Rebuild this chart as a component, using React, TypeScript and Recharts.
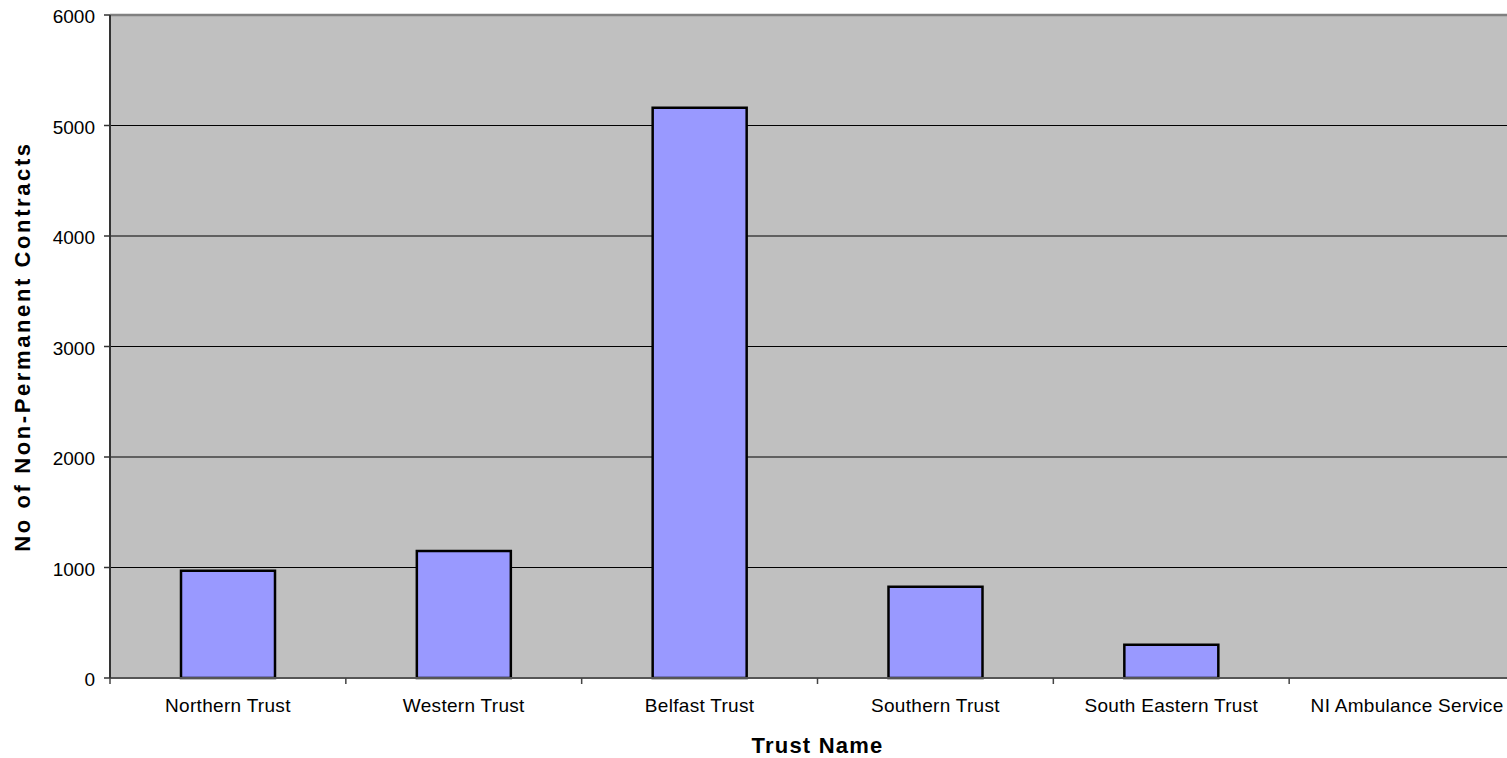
import React from 'react';
import {
  BarChart,
  Bar,
  XAxis,
  YAxis,
  CartesianGrid,
  ReferenceLine
} from 'recharts';

// trusts and their non-permanent contract counts
const trusts = [
  'Northern Trust',
  'Western Trust',
  'Belfast Trust',
  'Southern Trust',
  'South Eastern Trust',
  'NI Ambulance Service'
];
const contracts = [970, 1150, 5160, 825, 300, 0];
const yTicks = [0, 1000, 2000, 3000, 4000, 5000, 6000];

const chartData = trusts.map((name, i) => ({ name, contracts: contracts[i] }));

const TICK_SIZE = 6;
const X_TICK_MARGIN = 15;

// Excel style: tick marks sit on the category boundaries, text in the middle
function TrustTick(props: any) {
  const { x, y, payload } = props;
  const half = payload && typeof payload.offset === 'number' ? payload.offset : 0;
  const axisY = y - TICK_SIZE - X_TICK_MARGIN;
  return (
    <g>
      <line
        x1={x - half}
        x2={x - half}
        y1={axisY}
        y2={axisY + TICK_SIZE}
        stroke="#444"
        strokeWidth={1.5}
      />
      <text
        x={x}
        y={y}
        dy="0.71em"
        textAnchor="middle"
        fontSize={19}
        fill="#000"
        style={{ letterSpacing: 0.3 }}
      >
        {payload.value}
      </text>
    </g>
  );
}

export default function App() {
  return (
    <div
      style={{
        position: 'absolute',
        left: 0,
        top: 0,
        width: 1507,
        height: 758,
        overflow: 'hidden',
        background: '#fff',
        fontFamily: "'Liberation Sans', Arial, sans-serif"
      }}
    >
      <BarChart
        width={1530}
        height={758}
        data={chartData}
        margin={{ top: 15, right: 5, bottom: 0, left: 0 }}
      >
        <CartesianGrid
          vertical={false}
          stroke="#000"
          strokeWidth={1}
          fill="#C0C0C0"
          fillOpacity={1}
        />
        <XAxis
          dataKey="name"
          height={80}
          tickSize={TICK_SIZE}
          tickMargin={X_TICK_MARGIN}
          tickLine={{ stroke: 'none' }}
          axisLine={{ stroke: '#555', strokeWidth: 2 }}
          tick={<TrustTick />}
          interval={0}
          label={{
            value: 'Trust Name',
            position: 'insideBottom',
            offset: 5,
            fontSize: 22,
            fontWeight: 'bold',
            fill: '#000',
            style: { letterSpacing: 1.2 }
          }}
        />
        <YAxis
          width={110}
          domain={[0, 6000]}
          ticks={yTicks}
          interval={0}
          tickSize={TICK_SIZE}
          tickMargin={9}
          tickLine={{ stroke: '#333', strokeWidth: 1.5 }}
          axisLine={{ stroke: '#333', strokeWidth: 2 }}
          tick={{ fill: '#000', fontSize: 19, dy: 1.5 }}
          label={{
            value: 'No of Non-Permanent Contracts',
            angle: -90,
            position: 'insideLeft',
            offset: 22,
            fontSize: 22,
            fontWeight: 'bold',
            fill: '#000',
            style: { textAnchor: 'middle', letterSpacing: 2.6 }
          }}
        />
        <ReferenceLine y={6000} stroke="#808080" strokeWidth={2.5} />
        <Bar
          dataKey="contracts"
          fill="#9999FF"
          stroke="#000"
          strokeWidth={2.5}
          barSize={94}
          isAnimationActive={false}
        />
      </BarChart>
    </div>
  );
}
